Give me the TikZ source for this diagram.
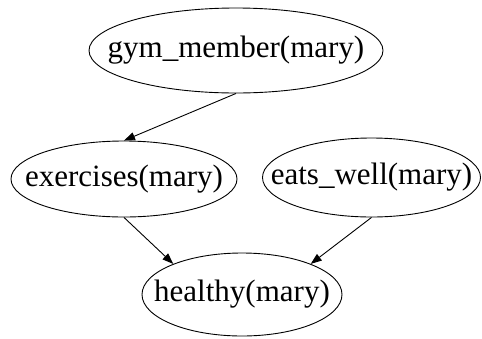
\documentclass[tikz,border=0pt]{standalone}
\usepackage{fontspec}
\setmainfont{Liberation Serif}
\usetikzlibrary{shapes.geometric,arrows.meta}
\newcommand{\lbl}[1]{\makebox[0pt]{#1}}
\tikzset{
    EL/.style ={ellipse, draw, line width=0.9pt, inner sep=0pt, font=\fontsize{31}{36}\selectfont},
    AR/.style ={line width=0.9pt, -{Triangle[length=11pt,width=8pt]}}}
\begin{document}
\begin{tikzpicture}[x=1pt,y=-1pt]
        \useasboundingbox (0,0) rectangle (482,338);
        \node[EL, minimum width=294pt, minimum height=85pt] (gym) at(236,50.5){\lbl{gym\_member(mary)}};
        \node[EL, minimum width=226pt, minimum height=76pt] (ex) at(124,179){\lbl{exercises(mary)}};
        \node[EL, minimum width=218pt, minimum height=79pt] (eat) at(371.5,177.5){\lbl{eats\_well(mary)}};
        \node[EL, minimum width=200pt, minimum height=83pt] (hl) at(242,294.5){\lbl{healthy(mary)}};
        \draw[AR] (gym.south) -- (ex.north);
        \draw[AR] (ex.south) -- (hl.156);
        \draw[AR] (eat.south) -- (hl.24);
    \end{tikzpicture}
\end{document}
